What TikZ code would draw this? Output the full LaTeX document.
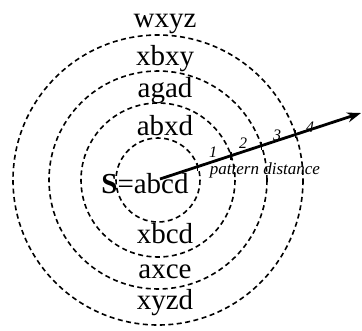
\documentclass[tikz,border=0pt]{standalone}
\usepackage{fontspec}
\setmainfont{Liberation Serif}
\usetikzlibrary{arrows.meta, intersections}

\begin{document}
\begin{tikzpicture}[
    x=1pt, y=-1pt,
    ring/.style={draw, dash pattern=on 5pt off 3.5pt, line width=1.6pt},
    word/.style={font=\fontsize{29}{31}\selectfont, anchor=base, inner sep=0pt},
    dist/.style={-{Stealth[length=14pt, width=10pt]}, line width=2.8pt},
    tickmark/.style={line width=1.2pt},
    num/.style={font=\itshape\fontsize{16}{18}\selectfont, inner sep=0pt},
]
\useasboundingbox (0,0) rectangle (362,330);

% ===================== Anillos de distancia =====================
\coordinate (ctr) at (158,180);
\foreach \r/\n in {42/a, 77/b, 109/c, 145/d} {
    \draw[ring, name path global=ring\n] (ctr) circle[radius=\r];
}

% ===================== Cadenas =====================
\foreach \w/\y in {wxyz/27, xbxy/65, agad/97, abxd/135,
                   xbcd/243, axce/278, xyzd/309} {
    \node[word] (\w) at (165,\y) {\w};
}
\node[word] (src) at (145,193) {\textbf{S}=abcd};

% ===================== Eje de distancia =====================
\coordinate (from) at (160,179);
\coordinate (tip) at (361,113);
\draw[dist, name path global=ray] (from) -- (tip);

\foreach \n/\k in {a/1, b/2, c/3, d/4} {
    \path[name intersections={of=ray and ring\n, by=x\k}];
    \draw[tickmark] (x\k) ++(0,-4) -- ++(0,8);
}
\foreach \k/\p in {1/{213,152}, 2/{243,143}, 3/{277,135}, 4/{310,127}} {
    \node[num] (num\k) at (\p) {\k};
}
\node[num, anchor=base, font=\itshape\fontsize{17}{19}\selectfont]
      (pd) at (265,174) {pattern distance};

\end{tikzpicture}
\end{document}
